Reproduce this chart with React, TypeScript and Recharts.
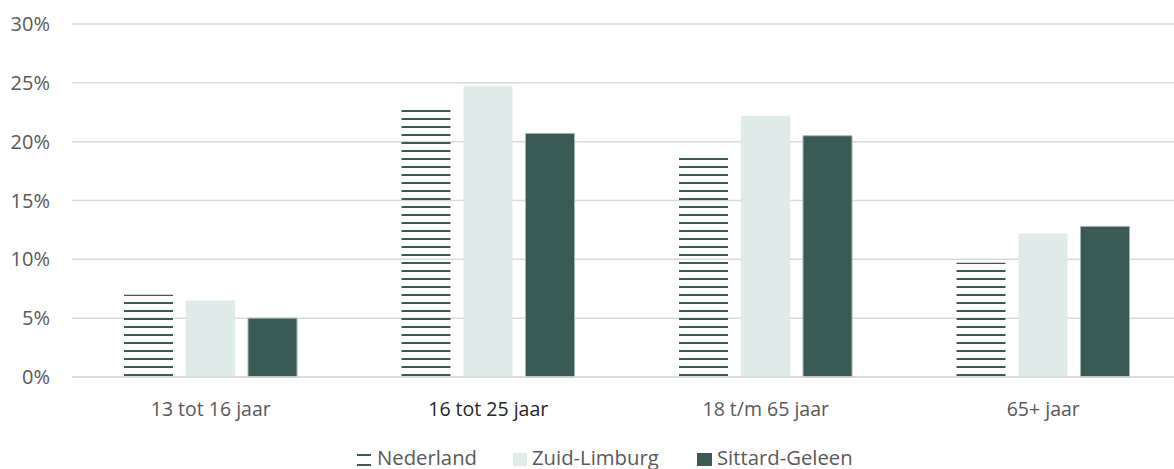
import React from "react";
import { BarChart, Bar, XAxis, YAxis, CartesianGrid, Legend } from "recharts";

const categories = ["13 tot 16 jaar", "16 tot 25 jaar", "18 t/m 65 jaar", "65+ jaar"];
const nederland = [7.0, 23.1, 18.7, 9.7];
const zuidLimburg = [6.5, 24.7, 22.2, 12.2];
const sittardGeleen = [5.0, 20.7, 20.5, 12.8];
const yTicks = [0, 5, 10, 15, 20, 25, 30];
const seriesNames = ["Nederland", "Zuid-Limburg", "Sittard-Geleen"];

const data = categories.map((c, i) => ({
  name: c,
  nl: nederland[i],
  zl: zuidLimburg[i],
  sg: sittardGeleen[i],
}));

const DARK = "#3a5b55";
const LIGHT = "#deebe8";
const TEXT = "#595959";

const XTick = (props: any) => {
  const { x, y, payload, index } = props;
  const special = index === 1;
  return (
    <text
      x={x}
      y={y + 39}
      textAnchor="middle"
      fill={special ? "#262626" : TEXT}
      style={{ fontFamily: "'Open Sans', sans-serif", fontSize: 19.5 }}
    >
      {payload.value}
    </text>
  );
};

const LegendContent = () => (
  <div
    style={{
      position: "absolute",
      left: 0,
      top: 0,
      width: 1174,
      height: 28,
      fontFamily: "'Open Sans', sans-serif",
      fontSize: 20.3,
      lineHeight: "28px",
      color: TEXT,
      whiteSpace: "nowrap",
    }}
  >
    <div style={{ position: "absolute", left: 357, top: 0, display: "flex", alignItems: "center", height: 28 }}>
      <svg width={14} height={14} style={{ marginRight: 6, marginTop: 5 }}>
        <rect x={0} y={1} width={14} height={2} fill={DARK} />
        <rect x={0} y={11} width={14} height={2} fill={DARK} />
      </svg>
      <span>{seriesNames[0]}</span>
    </div>
    <div style={{ position: "absolute", left: 513, top: 0, display: "flex", alignItems: "center", height: 28 }}>
      <svg width={14} height={13} style={{ marginRight: 5, marginTop: 5 }}>
        <rect x={0} y={0} width={14} height={13} fill={LIGHT} />
      </svg>
      <span>{seriesNames[1]}</span>
    </div>
    <div style={{ position: "absolute", left: 697, top: 0, display: "flex", alignItems: "center", height: 28 }}>
      <svg width={15} height={13} style={{ marginRight: 5, marginTop: 5 }}>
        <rect x={0} y={0} width={15} height={13} fill={DARK} />
      </svg>
      <span>{seriesNames[2]}</span>
    </div>
  </div>
);

export default function App() {
  return (
    <div
      style={{
        position: "fixed",
        left: 0,
        top: 0,
        width: 1174,
        height: 469,
        overflow: "hidden",
        background: "#ffffff",
      }}
    >
      <BarChart
        width={1182}
        height={469}
        data={data}
        margin={{ top: 24, right: 0, bottom: 62, left: 0 }}
        barCategoryGap="19%"
        barGap={13}
      >
        <defs>
          <pattern id="hatch" patternUnits="userSpaceOnUse" width={8} height={8}>
            <rect x={0} y={6} width={8} height={2} fill={DARK} />
          </pattern>
        </defs>
        <CartesianGrid vertical={false} stroke="#d9d9d9" strokeWidth={1.5} />
        <XAxis
          dataKey="name"
          axisLine={{ stroke: "#d9d9d9", strokeWidth: 1.5 }}
          tickLine={false}
          tickSize={0}
          tickMargin={0}
          height={30}
          tick={<XTick />}
          interval={0}
        />
        <YAxis
          width={72}
          domain={[0, 30]}
          ticks={yTicks}
          axisLine={false}
          tickLine={false}
          tickSize={0}
          tickMargin={22}
          tickFormatter={(v: number) => `${v}%`}
          tick={{ fill: TEXT, fontSize: 20, fontFamily: "'Open Sans', sans-serif" }}
          interval={0}
        />
        <Legend
          layout="horizontal"
          verticalAlign="middle"
          align="center"
          content={<LegendContent />}
          wrapperStyle={{ top: 443, left: 0, width: 1174, height: 28 }}
        />
        <Bar dataKey="nl" name={seriesNames[0]} fill="url(#hatch)" barSize={49} isAnimationActive={false} />
        <Bar dataKey="zl" name={seriesNames[1]} fill={LIGHT} barSize={49} isAnimationActive={false} />
        <Bar
          dataKey="sg"
          name={seriesNames[2]}
          fill={DARK}
          stroke="#a3b5b0"
          strokeWidth={1}
          barSize={49}
          isAnimationActive={false}
        />
      </BarChart>
    </div>
  );
}
